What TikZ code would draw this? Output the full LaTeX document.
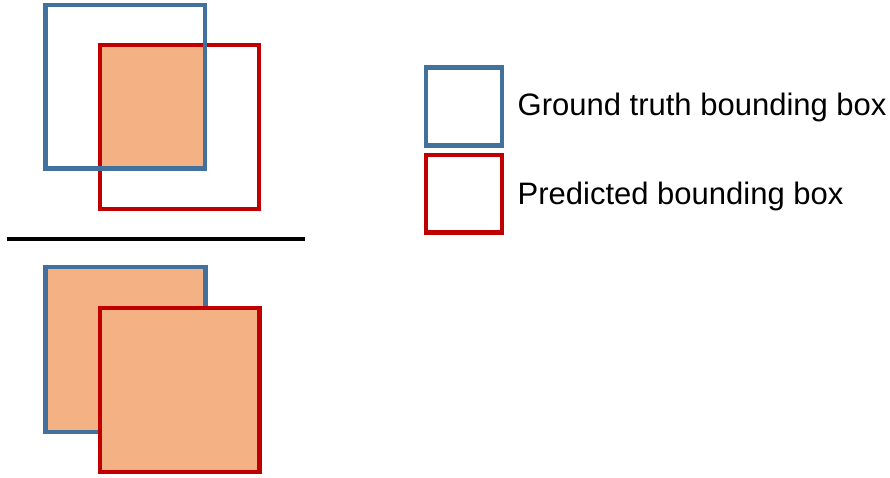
\documentclass[tikz,border=0pt]{standalone}
\usepackage{fontspec}
\setmainfont{Liberation Sans}
\definecolor{gtblue}{RGB}{65,113,156}
\definecolor{predred}{RGB}{192,0,0}
\definecolor{overlap}{RGB}{244,177,131}
\tikzset{
  gtbox/.style={draw=gtblue, line width=4.3pt},
  predbox/.style={draw=predred, line width=4.3pt},
  area/.style={fill=overlap},
  legendtext/.style={anchor=base west, inner sep=0pt, font=\fontsize{31}{36}\selectfont}
}
\begin{document}
\begin{tikzpicture}[x=1pt, y=-1pt]
\useasboundingbox (0,0) rectangle (890,477);

% upper pair: only the intersection is shaded
\fill[area] (99.8,45.3) rectangle (205,168.5);
\path[predbox] (99.8,45.3) rectangle (259.2,209.2);
\path[gtbox] (45.5,5.3) rectangle (205,168.5);

% dividing rule
\draw[line width=4.3pt] (6.7,238.8) -- (305,238.8);

% lower pair: the union is shaded
\path[gtbox, area] (45.5,267.2) rectangle (205.5,432);
\path[predbox, area] (99.8,308.3) rectangle (259.6,472.3);

% legend
\path[gtbox] (426,67.5) rectangle (501.7,145.5);
\path[predbox] (426,154.8) rectangle (501.7,232.5);
\node[legendtext] (gt) at (517.5,115) {Ground truth bounding box};
\node[legendtext] (pred) at (517.5,204) {Predicted bounding box};
\end{tikzpicture}
\end{document}
